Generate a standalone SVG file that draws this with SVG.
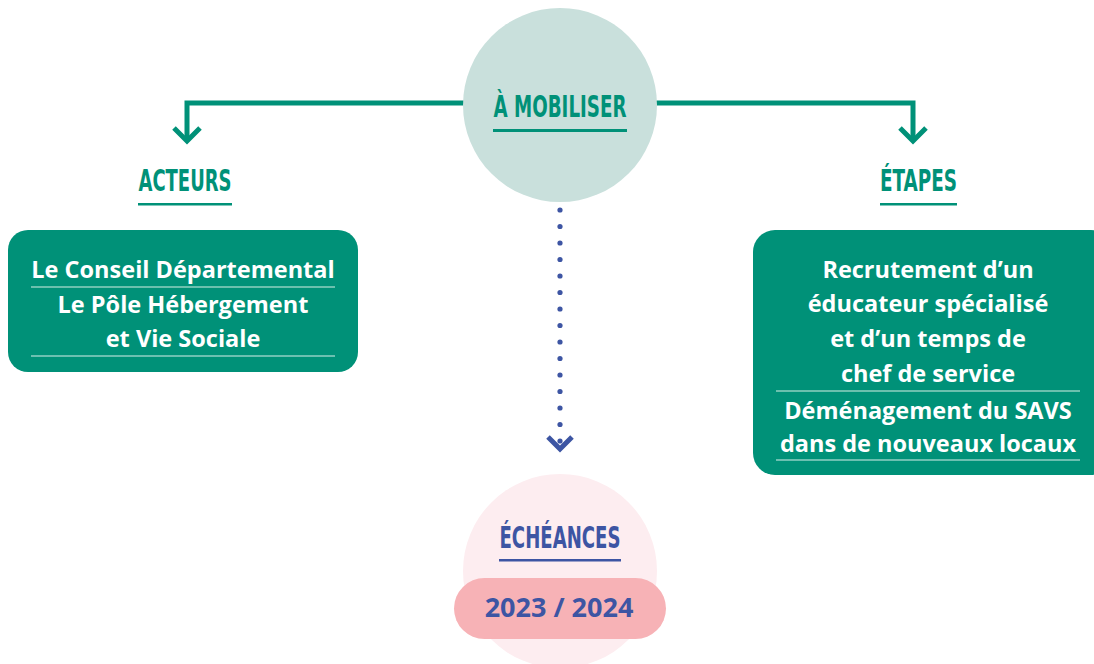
<svg xmlns="http://www.w3.org/2000/svg" width="1094" height="664" viewBox="0 0 1094 664">
<defs>
<style>
.title{font-family:"DejaVu Sans Condensed","Liberation Sans",sans-serif;font-weight:bold;font-size:31px;}
.green{fill:#009178;}
.blue{fill:#3d55a3;}
.body{font-family:"Open Sans","Noto Sans",sans-serif;font-weight:700;font-size:23.5px;fill:#ffffff;text-anchor:middle;}
.sep{stroke:#8fd0c0;stroke-width:1.5;}
.conn{fill:none;stroke:#009178;stroke-width:5;}
.dot{fill:#3d55a3;}
</style>
</defs>
<rect width="1094" height="664" fill="#ffffff"/>
<g id="connectors">
<path class="conn" d="M470 103 H187 V141"/>
<path class="conn" d="M174 128 L187 141 L200 128"/>
<path class="conn" d="M650 103 H913 V141"/>
<path class="conn" d="M900 128 L913 141 L926 128"/>
<g class="dot">
<circle cx="560" cy="210" r="2.6"/><circle cx="560" cy="226.5" r="2.6"/><circle cx="560" cy="243" r="2.6"/><circle cx="560" cy="259.5" r="2.6"/><circle cx="560" cy="276" r="2.6"/><circle cx="560" cy="292.5" r="2.6"/><circle cx="560" cy="309" r="2.6"/><circle cx="560" cy="325.5" r="2.6"/><circle cx="560" cy="342" r="2.6"/><circle cx="560" cy="358.5" r="2.6"/><circle cx="560" cy="375" r="2.6"/><circle cx="560" cy="391.5" r="2.6"/><circle cx="560" cy="408" r="2.6"/><circle cx="560" cy="424.5" r="2.6"/><circle cx="560" cy="441" r="2.6"/>
</g>
<path d="M548 437 L560 449 L572 437" fill="none" stroke="#3d55a3" stroke-width="5"/>
</g>
<g id="mobiliser">
<circle cx="560" cy="105" r="97" fill="#c9e0dc"/>
<text class="title green" x="560" y="117" text-anchor="middle" textLength="133" lengthAdjust="spacingAndGlyphs">À MOBILISER</text>
<rect x="493" y="129" width="134" height="3" class="green"/>
</g>
<g id="acteurs-title">
<text class="title green" x="185" y="191" text-anchor="middle" textLength="93" lengthAdjust="spacingAndGlyphs">ACTEURS</text>
<rect x="138" y="203" width="94" height="2.5" class="green"/>
</g>
<g id="etapes-title">
<text class="title green" x="918.5" y="191" text-anchor="middle" textLength="77" lengthAdjust="spacingAndGlyphs">ÉTAPES</text>
<rect x="880" y="203" width="77" height="2.5" class="green"/>
</g>
<g id="acteurs">
<rect x="8" y="230" width="350" height="142" rx="20" fill="#009178"/>
<text class="body" x="183" y="278">Le Conseil Départemental</text>
<line class="sep" x1="31" y1="287" x2="335" y2="287"/>
<text class="body" x="183" y="313">Le Pôle Hébergement</text>
<text class="body" x="183" y="347">et Vie Sociale</text>
<line x1="31" y1="356" x2="335" y2="356" stroke="#d8efe9" stroke-width="1.2"/>
</g>
<g id="etapes">
<rect x="753" y="230" width="360" height="245" rx="22" fill="#009178"/>
<text class="body" x="928" y="278">Recrutement d’un</text>
<text class="body" x="928" y="312">éducateur spécialisé</text>
<text class="body" x="928" y="347">et d’un temps de</text>
<text class="body" x="928" y="382">chef de service</text>
<line class="sep" x1="776" y1="391" x2="1080" y2="391"/>
<text class="body" x="928" y="419">Déménagement du SAVS</text>
<text class="body" x="928" y="452">dans de nouveaux locaux</text>
<line x1="776" y1="460" x2="1080" y2="460" stroke="#d8efe9" stroke-width="1.2"/>
</g>
<g id="echeances">
<circle cx="560" cy="571" r="97" fill="#fdedf0"/>
<text class="title blue" x="560" y="548" text-anchor="middle" textLength="121" lengthAdjust="spacingAndGlyphs">ÉCHÉANCES</text>
<rect x="499" y="559" width="122" height="2.5" class="blue"/>
<rect x="454" y="578" width="212" height="61" rx="30.5" fill="#f7b2b6"/>
<text x="559" y="617" text-anchor="middle" font-family="Open Sans, Noto Sans, sans-serif" font-weight="700" font-size="27" fill="#3d55a3">2023 / 2024</text>
</g>
</svg>
